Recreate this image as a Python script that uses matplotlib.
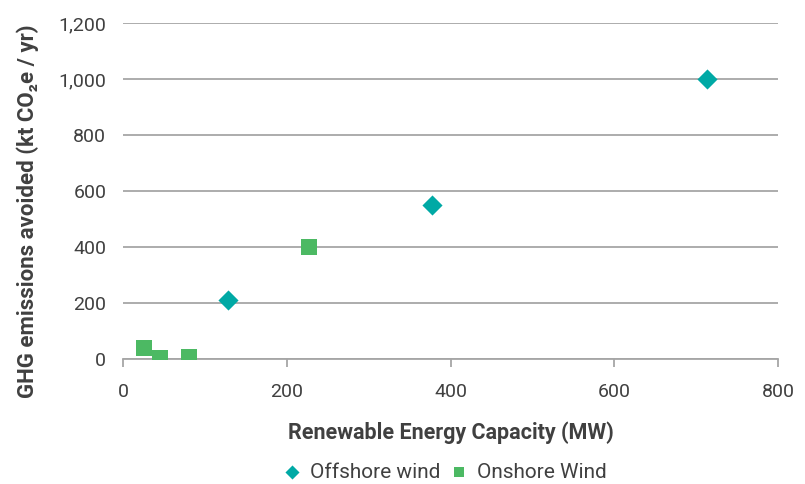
import matplotlib
matplotlib.use("Agg")
import matplotlib.pyplot as plt

plt.rcParams['font.family'] = ['Roboto', 'DejaVu Sans']

# данные
offshore_x = [128, 377, 713]
offshore_y = [211, 550, 1000]
onshore_x = [26, 45, 80, 227]
onshore_y = [40, 2, 7, 400]

x_ticks = [0, 200, 400, 600, 800]
y_ticks = [0, 200, 400, 600, 800, 1000, 1200]

text_col = "#404040"
grid_col = "#A6A6A6"

fig = plt.figure(figsize=(8.05, 4.84), dpi=100)
ax = fig.add_axes([0.1528, 0.2583, 0.8137, 0.6942])

ax.scatter(onshore_x, onshore_y, marker="s", s=120, color="#4CB963",
           label="Onshore Wind", zorder=3, linewidths=0)
ax.scatter(offshore_x, offshore_y, marker="D", s=105, color="#00A9A5",
           label="Offshore wind", zorder=3, linewidths=0)

ax.set_xlim(0, 800)
ax.set_ylim(0, 1200)
ax.set_xticks(x_ticks)
ax.set_yticks(y_ticks)
ax.set_yticklabels(["{:,}".format(v) for v in y_ticks])
ax.yaxis.grid(True, color=grid_col, linewidth=1.3)
ax.set_axisbelow(True)

for s in ["top", "right", "left"]:
    ax.spines[s].set_visible(False)
ax.spines["bottom"].set_color(grid_col)
ax.spines["bottom"].set_linewidth(1.3)
ax.tick_params(axis="y", length=0, pad=12, labelsize=14, labelcolor=text_col)
ax.tick_params(axis="x", length=6, width=1.3, color=grid_col, pad=11,
               labelsize=14, labelcolor=text_col)

ax.set_xlabel("Renewable Energy Capacity (MW)", fontsize=15.5, fontweight="bold",
              color=text_col, labelpad=15)
ax.set_ylabel("GHG emissions avoided (kt CO₂e / yr)", fontsize=16,
              fontweight="bold", color=text_col)
ax.yaxis.set_label_coords(-0.128, 0.44)

h, l = ax.get_legend_handles_labels()
fig.legend(h[::-1], l[::-1], loc="center", bbox_to_anchor=(0.553, 0.024),
           ncol=2, frameon=False, fontsize=15, labelcolor=text_col,
           handlelength=0.8, handletextpad=0.45, columnspacing=0.5,
           markerscale=0.7)

fig.savefig("out.png", dpi=100)
